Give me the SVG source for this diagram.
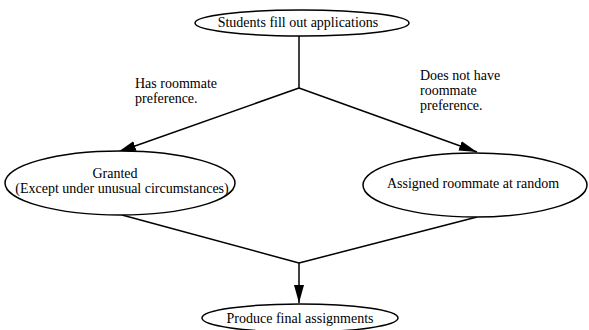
<svg xmlns="http://www.w3.org/2000/svg" width="589" height="330" viewBox="0 0 589 330">
<style>
.node{fill:#fff;stroke:#000;stroke-width:1.5}
text{font-family:'Liberation Serif','DejaVu Serif','Times New Roman',serif;font-size:14px;fill:#000}
.c{text-anchor:middle}
.e{fill:none;stroke:#000;stroke-width:1.5}
</style>
<defs>
<marker id="ah" markerUnits="userSpaceOnUse" markerWidth="20" markerHeight="12" refX="18" refY="5" orient="auto">
<path d="M0,0 L18,5 L0,10 z" fill="#000"/>
</marker>
</defs>
<rect width="589" height="330" fill="#fff"/>
<g id="connectors">
<line class="e" x1="299" y1="36" x2="299" y2="88"/>
<line class="e" x1="299" y1="88" x2="118" y2="152" marker-end="url(#ah)"/>
<line class="e" x1="299" y1="88" x2="477" y2="152" marker-end="url(#ah)"/>
<line class="e" x1="122" y1="215" x2="299" y2="263"/>
<line class="e" x1="477" y1="217" x2="299" y2="263"/>
<line class="e" x1="299" y1="263" x2="299" y2="303" marker-end="url(#ah)"/>
</g>
<g id="label-has">
<text x="135" y="88">Has roommate</text>
<text x="135" y="103">preference.</text>
</g>
<g id="label-hasnot">
<text x="420" y="80">Does not have</text>
<text x="420" y="95">roommate</text>
<text x="420" y="110">preference.</text>
</g>
<g id="n-students">
<ellipse class="node" cx="302" cy="23" rx="107" ry="13"/>
<text class="c" x="298" y="27">Students fill out applications</text>
</g>
<g id="n-granted">
<ellipse class="node" cx="120" cy="183" rx="115" ry="32"/>
<text class="c" x="115" y="178">Granted</text>
<text class="c" x="122" y="193">(Except under unusual circumstances)</text>
</g>
<g id="n-random">
<ellipse class="node" cx="475" cy="185" rx="112" ry="32"/>
<text class="c" x="473" y="188">Assigned roommate at random</text>
</g>
<g id="n-final">
<ellipse class="node" cx="300" cy="318" rx="98" ry="14"/>
<text class="c" x="300" y="323">Produce final assignments</text>
</g>
</svg>
